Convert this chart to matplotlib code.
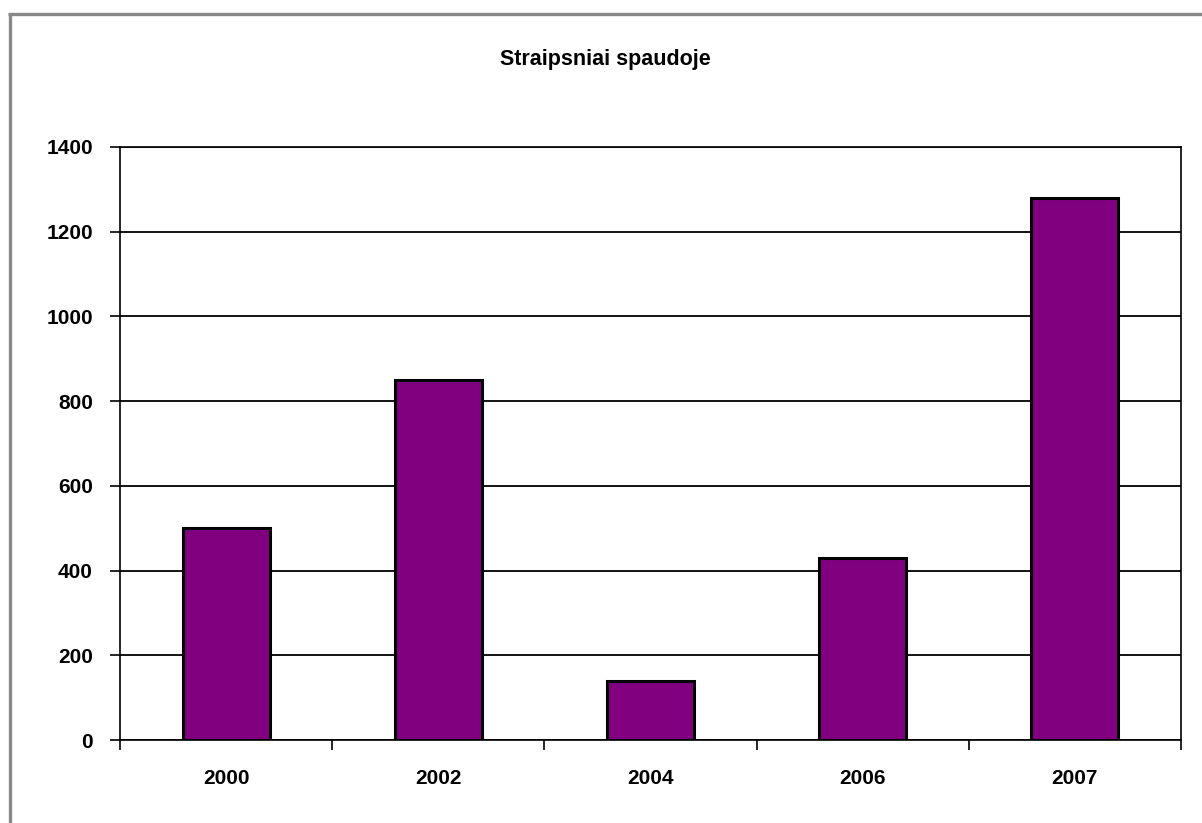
import matplotlib
matplotlib.use("Agg")
import matplotlib.pyplot as plt
from matplotlib.lines import Line2D

years = ["2000", "2002", "2004", "2006", "2007"]
values = [500, 850, 140, 430, 1280]
yticks = [0, 200, 400, 600, 800, 1000, 1200, 1400]
title = "Straipsniai spaudoje"

W, H = 1202, 823
fig = plt.figure(figsize=(W / 100, H / 100), dpi=100)
fig.patch.set_facecolor("white")

# outer gray frame (left and top)
fig.add_artist(Line2D([9.5 / W, 9.5 / W], [0, 1 - 13 / H], color="#888888", lw=2.4,
                      transform=fig.transFigure, solid_capstyle="butt"))
fig.add_artist(Line2D([8 / W, 1], [1 - 14 / H, 1 - 14 / H], color="#888888", lw=2.4,
                      transform=fig.transFigure, solid_capstyle="butt"))

ax = fig.add_axes([120 / W, 83 / H, (1181 - 120) / W, (740 - 147) / H])
x = list(range(len(years)))
ax.bar(x, values, width=0.41, color="#800080", edgecolor="black", linewidth=2.2, zorder=3)

ax.set_xlim(-0.5, len(years) - 0.5)
ax.set_ylim(0, 1400)
ax.set_yticks(yticks)
ax.set_yticklabels([str(v) for v in yticks])
ax.set_xticks(x)
ax.set_xticklabels(years)
ax.set_xticks([i - 0.5 for i in range(len(years) + 1)], minor=True)

ax.yaxis.grid(True, color="black", linewidth=1.3, zorder=0)
ax.set_axisbelow(True)

for s in ["left", "bottom", "right", "top"]:
    ax.spines[s].set_color("black")
    ax.spines[s].set_linewidth(1.2)

ax.tick_params(axis="y", direction="out", length=7, width=1.2, pad=12.5)
ax.tick_params(axis="x", which="major", length=0, pad=21)
ax.tick_params(axis="x", which="minor", direction="out", length=7, width=1.2)

for lab in ax.get_yticklabels() + ax.get_xticklabels():
    lab.set_fontfamily("Liberation Sans")
    lab.set_fontweight("bold")
    lab.set_fontsize(15)

fig.text(605 / W, 1 - 59 / H, title, ha="center", va="center",
         fontfamily="Liberation Sans", fontweight="bold", fontsize=15.5)

fig.savefig("out.png", dpi=100, facecolor="white")
